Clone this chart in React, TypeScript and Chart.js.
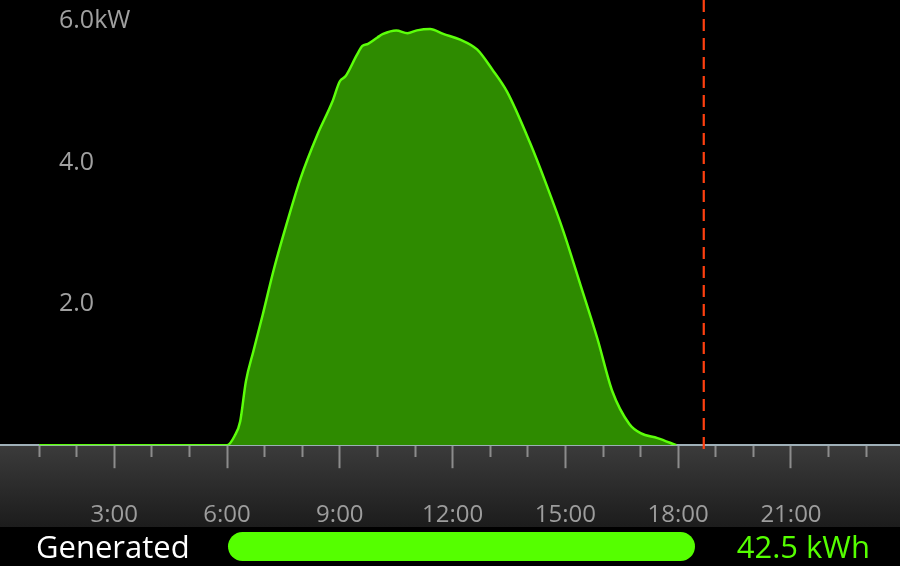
import { useEffect, useRef } from 'react'
import Chart from 'chart.js/auto'

// solar output, hour of day -> kW
const hours = [
  1, 6.0, 6.2, 6.35, 6.5, 6.7, 6.95, 7.25, 7.6, 7.95, 8.4, 8.8, 9.0, 9.15, 9.45, 9.6, 9.75, 10.0, 10.15,
  10.5, 10.8, 11.05, 11.4, 11.75, 12.2, 12.65, 13.05, 13.45, 14.05, 14.5, 14.95, 15.4, 15.85, 16.25,
  16.7, 17.0, 17.45, 17.95,
]
const kw = [
  0, 0, 0.13, 0.34, 0.9, 1.33, 1.85, 2.5, 3.16, 3.77, 4.39, 4.86, 5.15, 5.22, 5.52, 5.65, 5.68, 5.77, 5.82,
  5.87, 5.83, 5.87, 5.89, 5.82, 5.74, 5.6, 5.32, 5.0, 4.29, 3.68, 3.02, 2.27, 1.51, 0.76, 0.3, 0.17, 0.1, 0,
]
const yTicks = [2, 4, 6]
const nowHour = 18.68
const totalLabel = '42.5 kWh'
const totalTitle = 'Generated'

const FONT = "'Open Sans', sans-serif"

// scales shouldn't push the plot area in for their labels
const noPad = (s: any) => {
  s.paddingLeft = 0
  s.paddingRight = 0
  s.paddingTop = 0
  s.paddingBottom = 0
}

const axisBar = {
  id: 'axisBar',
  beforeDraw(chart: Chart) {
    const { ctx, chartArea } = chart
    const top = chartArea.bottom
    const bottom = 527
    const g = ctx.createLinearGradient(0, top, 0, bottom)
    g.addColorStop(0, '#3b3b3b')
    g.addColorStop(1, '#1c1c1c')
    ctx.save()
    ctx.fillStyle = g
    ctx.fillRect(0, top, chart.width, bottom - top)
    ctx.restore()
  },
  afterDraw(chart: Chart) {
    const { ctx, chartArea } = chart
    const x = chart.scales.x.getPixelForValue(nowHour)
    ctx.save()
    ctx.strokeStyle = '#ff4010'
    ctx.lineWidth = 2.2
    ctx.setLineDash([12, 7])
    ctx.beginPath()
    ctx.moveTo(x, 0)
    ctx.lineTo(x, chartArea.bottom + 8)
    ctx.stroke()
    ctx.restore()
  },
}

export default function App() {
  const canvasRef = useRef<HTMLCanvasElement>(null)
  const chartRef = useRef<Chart | null>(null)

  useEffect(() => {
    if (!canvasRef.current) return
    if (chartRef.current) chartRef.current.destroy()

    chartRef.current = new Chart(canvasRef.current, {
      type: 'line',
      data: {
        datasets: [
          {
            data: hours.map((h, i) => ({ x: h, y: kw[i] })),
            borderColor: '#5cff0a',
            backgroundColor: '#2e8b00',
            borderWidth: 2.5,
            fill: 'origin',
            pointRadius: 0,
            cubicInterpolationMode: 'monotone',
          },
        ],
      },
      options: {
        responsive: true,
        maintainAspectRatio: false,
        animation: false,
        layout: { padding: 0 },
        plugins: { legend: { display: false }, tooltip: { enabled: false } },
        scales: {
          x: {
            type: 'linear',
            min: -0.04,
            max: 23.9,
            afterFit: noPad,
            border: { display: true, color: '#9fb0b8', width: 2 },
            grid: {
              drawOnChartArea: false,
              drawTicks: true,
              tickLength: 23,
              tickWidth: 2,
              tickColor: (c: any) => (c.tick && c.tick.value === 0 ? 'rgba(0,0,0,0)' : '#8c8c8c'),
              tickBorderDash: (c: any) => (c.tick && c.tick.value % 3 === 0 ? [] : [11, 40]),
            },
            ticks: {
              stepSize: 1,
              autoSkip: false,
              includeBounds: false,
              maxRotation: 0,
              padding: 32.5,
              color: '#9d9d9d',
              font: { family: FONT, size: 24 },
              callback: (v: any) => (v % 3 === 0 && v > 0 ? `${v}:00` : ''),
            },
          },
          y: {
            min: 0,
            max: 6.3,
            border: { display: false },
            grid: { display: false },
            afterFit: (s: any) => { noPad(s); s.width = 0 },
            afterBuildTicks: (s: any) => { s.ticks = yTicks.map((v) => ({ value: v })) },
            ticks: {
              mirror: true,
              padding: 59,
              color: '#a0a0a0',
              font: { family: FONT, size: 25 },
              callback: (v: any) => (v === 6 ? '6.0kW' : Number(v).toFixed(1)),
            },
          },
        },
      },
      plugins: [axisBar],
    })

    return () => { chartRef.current?.destroy() }
  }, [])

  return (
    <div style={{ position: 'absolute', left: 0, top: 0, width: 900, height: 566, background: '#000', overflow: 'hidden', fontFamily: FONT }}>
      <div style={{ position: 'absolute', left: 0, top: 0, width: 900, height: 562 }}>
        <canvas ref={canvasRef} />
      </div>

      {/* total row */}
      <div style={{ position: 'absolute', left: 36, top: 528, height: 36, lineHeight: '36px', fontSize: 31, color: '#fff' }}>
        {totalTitle}
      </div>
      <div style={{ position: 'absolute', left: 228, top: 532, width: 467, height: 29, borderRadius: 15, background: '#55ff00' }} />
      <div style={{ position: 'absolute', right: 30, top: 528, height: 36, lineHeight: '36px', fontSize: 31, color: '#55ff00' }}>
        {totalLabel}
      </div>
    </div>
  )
}
